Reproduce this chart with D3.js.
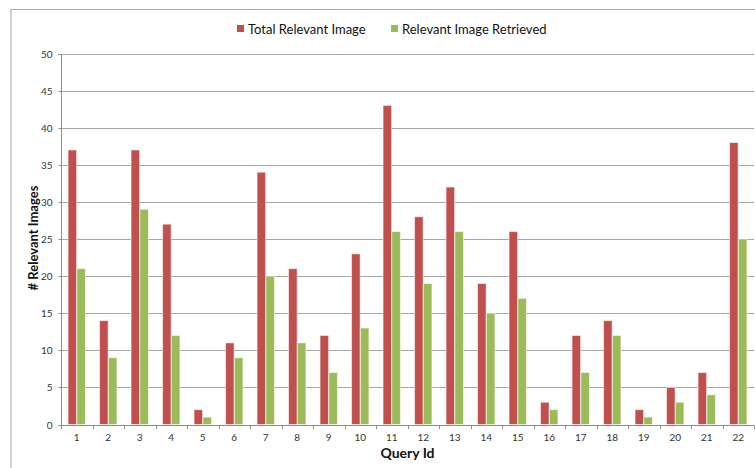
<!DOCTYPE html>
<html><head><meta charset="utf-8">
<script src="https://cdn.jsdelivr.net/npm/d3@7"></script>
<style>body{margin:0;background:#fff}svg{display:block}text{font-family:Lato,"Open Sans",sans-serif}</style>
</head><body><svg id="c" width="755" height="468"></svg>
<script>
const categories = ["1","2","3","4","5","6","7","8","9","10","11","12","13","14","15","16","17","18","19","20","21","22"];
const totalRelevant = [37,14,37,27,2,11,34,21,12,23,43,28,32,19,26,3,12,14,2,5,7,38];
const retrieved = [21,9,29,12,1,9,20,11,7,13,26,19,26,15,17,2,7,12,1,3,4,25];
const yTicks = [0,5,10,15,20,25,30,35,40,45,50];
const seriesNames = ["Total Relevant Image","Relevant Image Retrieved"];
const colors = ["#C0504D","#9BBB59"];

const svg = d3.select("#c");
const m = {l:61, r:754, t:53.5, b:424.5};
// frame
svg.append("rect").attr("x",11).attr("y",9.5).attr("width",760).attr("height",480)
  .attr("fill","none").attr("stroke","#a6a6a6").attr("stroke-width",1);

const x = d3.scaleBand().domain(categories).range([m.l,m.r]).paddingInner(0).paddingOuter(0);
const y = d3.scaleLinear().domain([0,50]).range([m.b,m.t]);
const xs = d3.scaleBand().domain([0,1]).range([0,x.bandwidth()]).paddingInner(0.03).paddingOuter(0.8);

// grid
svg.append("g").selectAll("line").data(yTicks.filter(d=>d>0)).join("line")
  .attr("x1",m.l).attr("x2",m.r).attr("y1",d=>Math.round(y(d))+0.5).attr("y2",d=>Math.round(y(d))+0.5)
  .attr("stroke","#a6a6a6").attr("stroke-width",1);

// y axis
const ya = svg.append("g").attr("transform",`translate(${m.l+0.5},0.5)`)
  .call(d3.axisLeft(y).tickValues(yTicks).tickSize(3).tickPadding(6));
ya.select(".domain").attr("stroke","#8c8c8c").attr("d",`M-3,${Math.round(y(50))}H0V${Math.round(y(0))}H-3`);
ya.selectAll(".tick line").attr("stroke","#8c8c8c").attr("transform",null);
ya.selectAll(".tick").attr("transform",d=>`translate(0,${Math.round(y(d))})`);
ya.selectAll("text").attr("fill","#333").attr("font-size","10px").attr("font-family","Lato,sans-serif");

// x axis baseline and ticks at boundaries
const xa = svg.append("g");
xa.append("line").attr("x1",m.l).attr("x2",m.r).attr("y1",Math.round(y(0))+0.5).attr("y2",Math.round(y(0))+0.5).attr("stroke","#8c8c8c");
const bounds = categories.map(c=>x(c)).concat([m.r]);
xa.selectAll("line.t").data(bounds).join("line").attr("class","t")
  .attr("x1",d=>Math.round(d)+0.5).attr("x2",d=>Math.round(d)+0.5)
  .attr("y1",Math.round(y(0))+0.5).attr("y2",Math.round(y(0))+4).attr("stroke","#8c8c8c");
xa.selectAll("text").data(categories).join("text")
  .attr("x",d=>x(d)+x.bandwidth()/2).attr("y",441).attr("text-anchor","middle")
  .attr("font-size","10px").attr("fill","#333").text(d=>d);

// bars
const data = [totalRelevant, retrieved];
data.forEach((vals,si)=>{
  svg.append("g").selectAll("rect").data(vals).join("rect")
    .attr("x",(d,i)=>x(categories[i])+xs(si))
    .attr("width",xs.bandwidth())
    .attr("y",d=>y(d)).attr("height",d=>y(0)-y(d))
    .attr("fill",colors[si]).attr("stroke","rgba(255,255,255,0.55)").attr("stroke-width",1);
});

// axis titles
svg.append("text").attr("x",(m.l+m.r)/2).attr("y",458).attr("text-anchor","middle")
  .attr("font-size","14px").attr("font-weight","bold").attr("fill","#111").text("Query Id");
svg.append("text").attr("transform",`translate(38,238) rotate(-90)`).attr("text-anchor","middle")
  .attr("font-size","13px").attr("font-weight","bold").attr("fill","#111").text("# Relevant Images");

// legend
const lg = [{x:237,t:seriesNames[0],c:colors[0]},{x:391,t:seriesNames[1],c:colors[1]}];
const lgG = svg.append("g").selectAll("g").data(lg).join("g");
lgG.append("rect").attr("x",d=>d.x).attr("y",25).attr("width",7).attr("height",7).attr("fill",d=>d.c);
lgG.append("text").attr("x",d=>d.x+11).attr("y",34).attr("font-size","13px").attr("fill","#111").text(d=>d.t);
</script></body></html>
